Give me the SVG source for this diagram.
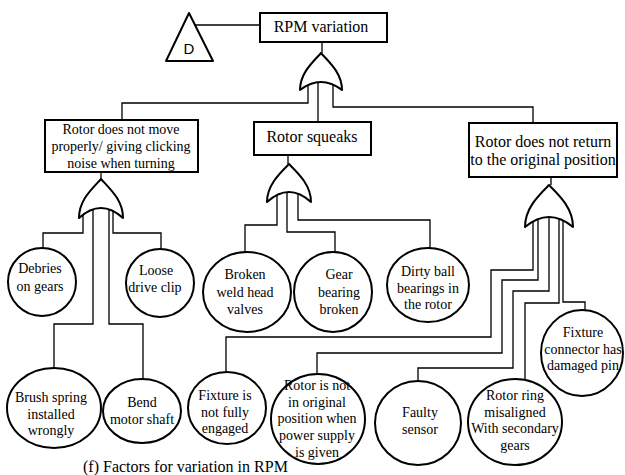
<svg xmlns="http://www.w3.org/2000/svg" width="625" height="475" viewBox="0 0 625 475" font-family="'Liberation Serif', 'DejaVu Serif', serif" font-size="14">
<style>
.box{fill:#fff;stroke:#000;stroke-width:2}
.circ{fill:#fff;stroke:#000;stroke-width:2}
.gate{fill:#fff;stroke:#000;stroke-width:2;stroke-linejoin:round}
.wire{fill:none;stroke:#000;stroke-width:1.3}
text{fill:#000;text-anchor:middle}
.t16{font-size:16px}
</style>
<rect width="625" height="475" fill="#fff"/>
<g id="connectors">
<path class="wire" d="M195,25 H260"/>
<path class="wire" d="M322,42 V53"/>
<path class="wire" d="M308,85 V103 H122 V120"/>
<path class="wire" d="M318,82 V122"/>
<path class="wire" d="M333,85 V107 H533 V123"/>
<path class="wire" d="M101,172 V179"/>
<path class="wire" d="M83,215 V233 H43 V249"/>
<path class="wire" d="M93,209 V324 H54 V368"/>
<path class="wire" d="M109,209 V324 H143 V379"/>
<path class="wire" d="M113,211 V233 H161 V250"/>
<path class="wire" d="M288,155 V164"/>
<path class="wire" d="M277,195 V225 H245 V252"/>
<path class="wire" d="M287,192 V232 H335 V252"/>
<path class="wire" d="M298,194 V220 H430 V248"/>
<path class="wire" d="M551,177 V185"/>
<path class="wire" d="M533,221 V270 H491 V337 H226 V372"/>
<path class="wire" d="M538,219 V280 H502 V353 H317 V374"/>
<path class="wire" d="M549,217 V291 H513 V368 H418 V381"/>
<path class="wire" d="M559,219 V303 H525 V380"/>
<path class="wire" d="M563,220 V302 H585 V310"/>
</g>
<g id="gates">
<path id="gate1" class="gate" d="M300,90 C300,73 313,62 321,53 C329,62 342,73 342,90 Q321,74 300,90 Z"/>
<path id="gate2" class="gate" d="M79,218 C79,200 92,189 101,179 C110,189 123,200 123,218 Q101,198 79,218 Z"/>
<path id="gate3" class="gate" d="M267,202 C267,185 280,173 289,164 C298,173 311,185 311,202 Q289,182 267,202 Z"/>
<path id="gate4" class="gate" d="M525,227 C525,208 539,195 549,185 C559,195 573,208 573,227 Q549,207 525,227 Z"/>
</g>
<g id="transfer">
<path class="gate" d="M189,13 L213,61 L166,61 Z"/>
<text x="189" y="54" font-family="'Liberation Sans', Arial, sans-serif" font-size="15">D</text>
</g>
<g id="top">
<rect class="box" x="260" y="13" width="127" height="29"/>
<text class="t16" x="321" y="32">RPM variation</text>
</g>
<g id="rotor-move">
<rect class="box" x="45" y="120" width="153" height="52"/>
<text x="121" y="134">Rotor does not move</text>
<text x="121" y="151">properly/ giving  clicking</text>
<text x="121" y="168">noise when turning</text>
</g>
<g id="rotor-squeaks">
<rect class="box" x="254" y="122" width="117" height="33"/>
<text class="t16" x="312" y="142">Rotor squeaks</text>
</g>
<g id="rotor-return">
<rect class="box" x="469" y="123" width="148" height="54"/>
<text class="t16" x="543" y="147">Rotor does not return</text>
<text class="t16" x="543" y="165">to the original position</text>
</g>
<g id="debries">
<ellipse class="circ" cx="42" cy="282" rx="34" ry="34"/>
<text x="40" y="273">Debries</text>
<text x="40" y="291">on gears</text>
</g>
<g id="loose">
<ellipse class="circ" cx="160" cy="283" rx="34" ry="34"/>
<text x="156" y="275">Loose</text>
<text x="155" y="292">drive clip</text>
</g>
<g id="broken">
<ellipse class="circ" cx="247" cy="292" rx="44" ry="40"/>
<text x="245" y="279">Broken</text>
<text x="245" y="297">weld head</text>
<text x="245" y="314">valves</text>
</g>
<g id="gear">
<ellipse class="circ" cx="333" cy="292" rx="39" ry="40"/>
<text x="339" y="279">Gear</text>
<text x="339" y="297">bearing</text>
<text x="339" y="314">broken</text>
</g>
<g id="dirty">
<ellipse class="circ" cx="428" cy="285" rx="41" ry="37"/>
<text x="428" y="276">Dirty ball</text>
<text x="428" y="293">bearings in</text>
<text x="428" y="309">the rotor</text>
</g>
<g id="brush">
<ellipse class="circ" cx="54" cy="408" rx="47" ry="40"/>
<text x="51" y="402">Brush spring</text>
<text x="51" y="419">installed</text>
<text x="51" y="435">wrongly</text>
</g>
<g id="bend">
<ellipse class="circ" cx="142" cy="411" rx="39" ry="32"/>
<text x="142" y="407">Bend</text>
<text x="142" y="424">motor shaft</text>
</g>
<g id="fixture-engaged">
<ellipse class="circ" cx="227" cy="408" rx="39" ry="36"/>
<text x="225" y="400">Fixture is</text>
<text x="225" y="417">not fully</text>
<text x="225" y="433">engaged</text>
</g>
<g id="rotor-not">
<ellipse class="circ" cx="318" cy="419" rx="47" ry="45"/>
<text x="317" y="390">Rotor is not</text>
<text x="317" y="407">in  original</text>
<text x="317" y="423">position when</text>
<text x="317" y="440">power supply</text>
<text x="317" y="457">is given</text>
</g>
<g id="faulty">
<ellipse class="circ" cx="418" cy="423" rx="43" ry="42"/>
<text x="420" y="417">Faulty</text>
<text x="420" y="434">sensor</text>
</g>
<g id="rotor-ring">
<ellipse class="circ" cx="515" cy="422" rx="47" ry="43"/>
<text x="515" y="400">Rotor ring</text>
<text x="515" y="417">misaligned</text>
<text x="515" y="433">With secondary</text>
<text x="515" y="450">gears</text>
</g>
<g id="fixture-connector">
<ellipse class="circ" cx="582" cy="353" rx="41" ry="43"/>
<text x="583" y="337">Fixture</text>
<text x="583" y="354">connector has</text>
<text x="583" y="370">damaged pin</text>
</g>
<text x="83" y="472" font-size="16" style="text-anchor:start">(f) Factors for variation in RPM</text>
</svg>
